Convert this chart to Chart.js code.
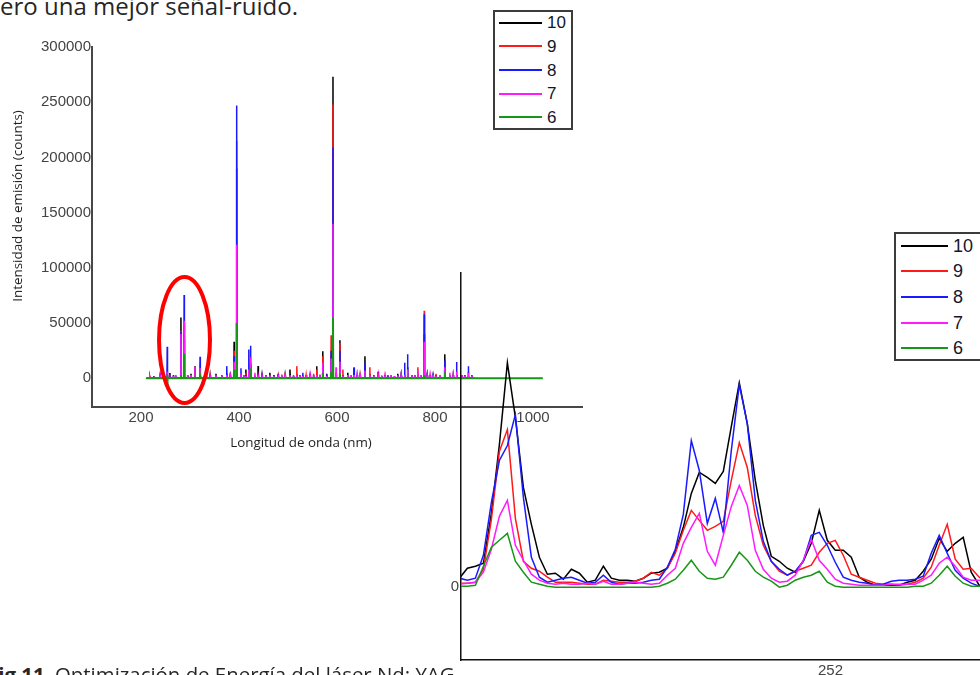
<!DOCTYPE html>
<html lang="es">
<head>
<meta charset="utf-8">
<title>Optimización de Energía del láser Nd:YAG</title>
<script src="https://cdn.jsdelivr.net/npm/chart.js@4.4.1/dist/chart.umd.min.js"></script>
<style>
  html, body { margin: 0; padding: 0; background: #fff; }
  body { position: relative; width: 980px; height: 675px; overflow: hidden; font-family: "Open Sans", sans-serif; color: #222; }
  canvas, .box, .swatch, .key, .txt { position: absolute; }
  #mainChart { left: 0; top: 0; }
  #insetChart { left: 431px; top: 262px; }
  .box { border: 2px solid #3c3c3c; background: #fff; box-sizing: border-box; }
  .swatch { height: 2px; }
  .key { font-family: "Liberation Sans", Arial, sans-serif; color: #15152a; line-height: 1; white-space: nowrap; }
  .txt { white-space: nowrap; line-height: 1; }
  #topText { left: 0; top: -6px; font-size: 24px; color: #262626; }
  #yTitle { left: -133px; top: 198px; width: 300px; text-align: center; font-size: 13.4px; line-height: 16px; transform: rotate(-90deg); color: #1e1e1e; }
  #xTitle { left: 201px; top: 434px; width: 200px; text-align: center; font-size: 13.4px; line-height: 16px; color: #1e1e1e; }
  #capNum { left: -13px; top: 664px; font-size: 20.4px; font-weight: 700; color: #262626; }
  #capText { left: 55px; top: 664px; font-size: 20.4px; color: #262626; }
</style>
</head>
<body>
<div class="txt" id="topText">ero una mejor señal-ruido.</div>

<canvas id="mainChart" width="600" height="440"></canvas>
<div class="txt" id="yTitle">Intensidad de emisión (counts)</div>
<div class="txt" id="xTitle">Longitud de onda (nm)</div>

<canvas id="insetChart" width="569" height="413"></canvas>

<div class="txt" id="capNum">Fig 11.</div>
<div class="txt" id="capText">Optimización de Energía del láser Nd: YAG</div>

<script>
const seriesNames = ['10', '9', '8', '7', '6'];
const seriesColors = ['#000000', '#ff1a1a', '#1a1aff', '#ff1aff', '#179617'];

// full spectrum: emission lines (nm) and their heights (counts) for each energy
const mainLines = [
  218, 226, 239, 246, 253.5, 259, 266, 271, 281.5, 288,
  295, 302, 310, 320.5, 333, 341, 353, 365, 375, 382,
  390, 395, 404, 410, 414, 420, 423.5, 432.5, 439, 447,
  455, 463, 471, 480, 487, 494, 504, 511, 518, 524,
  530, 537, 545, 552, 558.5, 565, 571, 579, 588, 591.8,
  598, 606, 612, 622, 628, 634.7, 641, 647, 657, 667,
  675, 684, 691, 698, 704, 710, 717, 724, 731, 738,
  744, 753, 759, 765, 771, 778, 784, 790, 796, 802,
  810, 820, 830, 837, 844, 855, 861, 868, 875
];
const main10 = [
  1200, 2000, 1500, 1000, 3000, 4800, 2500, 1500, 55000, 35000,
  2000, 4000, 11000, 3000, 1500, 2500, 4000, 2000, 4000, 3000,
  33000, 190000, 3000, 2000, 8000, 6000, 12000, 2000, 11000, 2500,
  2500, 5000, 3000, 1500, 2000, 2500, 8000, 2000, 3500, 3000,
  2000, 3000, 4000, 2500, 11000, 3000, 24500, 4000, 20000, 273000,
  5000, 34500, 3000, 5000, 2500, 9000, 3000, 2000, 20000, 4000,
  2500, 6000, 2000, 3000, 2000, 2500, 1500, 4000, 2500, 3000,
  10000, 3000, 2000, 3500, 2500, 40000, 2500, 3000, 2000, 3000,
  2500, 21800, 3000, 2500, 3000, 3000, 2000, 2000, 3000
];
const main9 = [
  2000, 1500, 2500, 2000, 2500, 3000, 2000, 1500, 43000, 48000,
  3000, 2000, 2500, 4000, 3000, 2000, 3000, 1500, 2500, 2000,
  25000, 215000, 3500, 2500, 5000, 3000, 14000, 2500, 3000, 4000,
  2000, 3000, 2500, 2000, 3500, 2000, 3000, 3000, 11000, 2500,
  3000, 2500, 2000, 4000, 8000, 3000, 20000, 3000, 39000, 248000,
  3000, 32000, 8000, 2500, 2500, 3000, 3000, 2500, 6000, 10000,
  3000, 2000, 2500, 2000, 3000, 3000, 2000, 2500, 2000, 3000,
  4000, 2500, 3000, 10000, 2000, 61200, 3000, 2000, 3000, 4000,
  2500, 12000, 3000, 3000, 2500, 2000, 2500, 6000, 2000
];
const main8 = [
  0, 1500, 2000, 1500, 28500, 2000, 3000, 2500, 42000, 75500,
  3000, 1500, 3000, 19400, 2500, 3000, 2500, 3000, 11000, 2000,
  20000, 247000, 9000, 3000, 3000, 26000, 29400, 2500, 3000, 2000,
  3000, 2500, 3000, 4000, 2500, 3000, 2500, 2000, 3000, 2500,
  5000, 3000, 2000, 2500, 3000, 2500, 12000, 3500, 25000, 209000,
  3000, 25000, 3000, 2000, 3000, 10000, 2500, 3000, 14000, 3000,
  2500, 3000, 2000, 3000, 2500, 2000, 2000, 3000, 2500, 14000,
  21800, 3000, 2500, 3000, 3000, 58000, 2500, 3000, 2000, 3000,
  2500, 16000, 2000, 3000, 14800, 2000, 3000, 11000, 2500
];
const main7 = [
  1000, 1500, 2000, 1200, 6000, 1500, 2000, 3000, 40000, 52000,
  3000, 3000, 10500, 9000, 2000, 1500, 2500, 2000, 3000, 5000,
  15000, 121000, 4000, 3000, 2000, 8000, 19000, 5000, 2000, 1500,
  2500, 2500, 2000, 1500, 3000, 3500, 2500, 2000, 3000, 2500,
  2000, 3000, 2500, 2500, 3000, 3500, 14000, 2000, 18000, 140000,
  10000, 15000, 2500, 3000, 3000, 3000, 2500, 4000, 7000, 3000,
  2000, 2500, 2500, 2000, 1500, 3000, 2000, 2500, 2500, 3000,
  8000, 3000, 2500, 7000, 3000, 33000, 2000, 2500, 3000, 2500,
  3000, 10000, 5000, 2500, 6000, 3000, 2000, 5000, 2500
];
const main6 = [
  0, 0, 0, 0, 1200, 0, 0, 0, 3000, 22500,
  0, 0, 1500, 2000, 0, 0, 0, 0, 0, 0,
  8000, 50000, 0, 0, 0, 0, 9000, 0, 0, 0,
  0, 0, 0, 0, 0, 0, 0, 0, 0, 0,
  0, 0, 0, 0, 0, 0, 5000, 0, 6000, 54500,
  0, 4000, 0, 0, 0, 0, 0, 0, 1500, 0,
  0, 0, 0, 0, 0, 0, 0, 0, 0, 0,
  1500, 0, 0, 0, 0, 3000, 0, 0, 0, 0,
  0, 1000, 0, 0, 0, 0, 0, 0, 0
];
const mainSpan = [212, 880];
const baselineSpan = [210, 1020];
const mainXTicks = [200, 400, 600, 800, 1000];
const mainYTicks = [0, 50000, 100000, 150000, 200000, 250000, 300000];

// marked region around 250-290 nm
const ringCenter = [288.8, 34700];
const ringRadius = [52, 57000];

// zoomed window near 252 nm, one reading every 0.05 nm
const insetStart = 249.68;
const insetStep = 0.05;
const inset10 = [
  900, 1900, 2100, 2400, 7400, 14300, 22500, 17000, 10000, 6300,
  3000, 1300, 1400, 800, 1800, 1400, 500, 700, 2100, 900,
  700, 700, 600, 900, 1400, 1500, 1900, 3600, 6000, 9400,
  11500, 11000, 10400, 11600, 16100, 20500, 16400, 10700, 6200, 3100,
  2600, 1900, 1500, 2600, 4400, 7700, 4700, 3700, 3700, 3000,
  1000, 500, 200, 200, 200, 200, 500, 700, 1600, 2800,
  4900, 3600, 4400, 5000, 1500, 200, 100, 100
];
const inset9 = [
  400, 400, 500, 1800, 6800, 13600, 15800, 6900, 2600, 1900,
  1600, 1000, 500, 500, 500, 400, 300, 300, 700, 600,
  500, 500, 600, 900, 1500, 1200, 1900, 3400, 5700, 7700,
  6700, 5700, 6100, 6600, 10700, 14500, 12000, 7200, 4200, 2600,
  1600, 1200, 1600, 1900, 2200, 3500, 4400, 4700, 3200, 1300,
  1000, 700, 400, 300, 300, 200, 300, 500, 900, 2000,
  4200, 6300, 2800, 1800, 1900, 1000, 400, 200
];
const inset8 = [
  900, 700, 900, 3200, 8500, 12700, 14200, 17300, 9000, 3000,
  1000, 500, 700, 900, 1000, 700, 400, 500, 1200, 500,
  300, 400, 400, 500, 700, 800, 2000, 3800, 7300, 14700,
  11700, 6400, 8900, 5500, 13700, 20300, 16400, 8700, 4600, 2600,
  1800, 1200, 1600, 2600, 5200, 5500, 4200, 2500, 1000, 700,
  500, 400, 200, 300, 600, 700, 700, 800, 1100, 3400,
  5200, 3400, 1700, 900, 400, 100, 100, 100
];
const inset7 = [
  300, 400, 500, 1500, 3800, 7100, 8700, 4200, 2700, 1300,
  700, 400, 300, 400, 300, 300, 400, 300, 600, 300,
  300, 400, 500, 400, 300, 400, 1200, 1900, 4400, 6000,
  7400, 3600, 2200, 5200, 8100, 10200, 8200, 3700, 1800, 900,
  500, 600, 1200, 2700, 4800, 2700, 1800, 800, 400, 300,
  200, 200, 200, 200, 300, 300, 300, 300, 700, 1200,
  2400, 3000, 2100, 1000, 700, 700, 500, 400
];
const inset6 = [
  100, 100, 200, 2100, 4000, 4700, 5400, 2600, 1500, 500,
  300, 100, 0, 0, 0, 0, 0, 0, 0, 0,
  0, 0, 0, 0, 0, 100, 400, 800, 1700, 2700,
  1600, 900, 800, 1000, 2200, 3500, 2700, 1600, 1000, 600,
  0, 200, 700, 1000, 1200, 1600, 500, 100, 0, 0,
  0, 0, 0, 0, 0, 0, 0, 100, 100, 400,
  1200, 2100, 1100, 400, 100, 100, 100, 100
];
const insetXTicks = [252];
const insetYTicks = [0];

Chart.defaults.font.family = '"Liberation Sans", Arial, sans-serif';

// each line becomes a thin spike rising from the zero baseline
function spikes(heights, span) {
  const pts = [{ x: span[0], y: 0 }];
  mainLines.forEach((wl, i) => {
    const h = heights[i];
    if (!h) return;
    pts.push({ x: wl - 0.6, y: 0 }, { x: wl, y: h }, { x: wl + 0.6, y: 0 });
  });
  pts.push({ x: span[1], y: 0 });
  return pts;
}

function readings(values) {
  return values.map((v, i) => ({ x: insetStart + i * insetStep, y: v }));
}

function fixedTicks(list) {
  return scale => { scale.ticks = list.map(v => ({ value: v })); };
}

const ringPlugin = {
  id: 'ring',
  afterDatasetsDraw(chart) {
    const { ctx, scales: { x, y } } = chart;
    const cx = x.getPixelForValue(ringCenter[0]);
    const cy = y.getPixelForValue(ringCenter[1]);
    const rx = Math.abs(x.getPixelForValue(ringCenter[0] + ringRadius[0]) - cx);
    const ry = Math.abs(y.getPixelForValue(ringCenter[1] + ringRadius[1]) - cy);
    ctx.save();
    ctx.strokeStyle = '#ff0000';
    ctx.lineWidth = 4;
    ctx.beginPath();
    ctx.ellipse(cx, cy, rx, ry, 0, 0, Math.PI * 2);
    ctx.stroke();
    ctx.restore();
  }
};

const mainSets = [main10, main9, main8, main7, main6];
const insetSets = [inset10, inset9, inset8, inset7, inset6];

new Chart(document.getElementById('mainChart'), {
  type: 'line',
  data: {
    datasets: mainSets.map((h, k) => ({
      label: seriesNames[k],
      data: spikes(h, k === 4 ? baselineSpan : mainSpan),
      borderColor: seriesColors[k],
      borderWidth: k === 4 ? 2 : 1.5,
      pointRadius: 0,
      tension: 0,
      fill: false,
      order: 5 - k
    }))
  },
  options: {
    responsive: false,
    animation: false,
    events: [],
    layout: { padding: { top: 47, right: 18, left: 0, bottom: 0 } },
    plugins: { legend: { display: false }, tooltip: { enabled: false } },
    scales: {
      x: {
        type: 'linear',
        min: 100,
        max: 1100,
        afterBuildTicks: fixedTicks(mainXTicks),
        afterFit: s => { s.height = 33; },
        grid: { display: false, drawTicks: false },
        border: { color: '#474747', width: 2 },
        ticks: { padding: 2, color: '#444', font: { size: 15 }, maxRotation: 0, autoSkip: false, callback: v => String(v) }
      },
      y: {
        type: 'linear',
        min: -26000,
        max: 300000,
        afterBuildTicks: fixedTicks(mainYTicks),
        afterFit: s => { s.width = 92; },
        grid: { display: false, drawTicks: false },
        border: { color: '#474747', width: 2 },
        ticks: { padding: 1, color: '#444', font: { size: 15 }, autoSkip: false, callback: v => String(v) }
      }
    }
  },
  plugins: [ringPlugin]
});

new Chart(document.getElementById('insetChart'), {
  type: 'line',
  data: {
    datasets: insetSets.map((v, k) => ({
      label: seriesNames[k],
      data: readings(v),
      borderColor: seriesColors[k],
      borderWidth: 1.5,
      pointRadius: 0,
      tension: 0,
      fill: false,
      order: 5 - k
    }))
  },
  options: {
    responsive: false,
    animation: false,
    events: [],
    layout: { padding: { top: 10, right: 0, left: 0, bottom: 0 } },
    plugins: { legend: { display: false }, tooltip: { enabled: false } },
    scales: {
      x: {
        type: 'linear',
        min: 249.69,
        max: 253.06,
        afterBuildTicks: fixedTicks(insetXTicks),
        afterFit: s => { s.height = 15; },
        grid: { display: false, drawTicks: false },
        border: { color: '#111', width: 1.5 },
        ticks: { padding: 2, color: '#444', font: { size: 15 }, maxRotation: 0, autoSkip: false, callback: v => String(v) }
      },
      y: {
        type: 'linear',
        min: -7300,
        max: 31500,
        afterBuildTicks: fixedTicks(insetYTicks),
        afterFit: s => { s.width = 30; },
        grid: { display: false, drawTicks: false },
        border: { color: '#111', width: 1.5 },
        ticks: { padding: 2, color: '#444', font: { size: 15 }, autoSkip: false, callback: v => String(v) }
      }
    }
  }
});

// boxed legends, one per chart
function legend(box, line, textLeft, firstRow, rowStep, fontSize) {
  const frame = document.createElement('div');
  frame.className = 'box';
  Object.assign(frame.style, { left: box[0] + 'px', top: box[1] + 'px', width: box[2] + 'px', height: box[3] + 'px' });
  document.body.appendChild(frame);
  seriesNames.forEach((name, k) => {
    const cy = firstRow + k * rowStep;
    const sw = document.createElement('div');
    sw.className = 'swatch';
    Object.assign(sw.style, { left: line[0] + 'px', width: (line[1] - line[0]) + 'px', top: (cy - 1) + 'px', background: seriesColors[k] });
    document.body.appendChild(sw);
    const key = document.createElement('div');
    key.className = 'key';
    key.textContent = name;
    Object.assign(key.style, { left: textLeft + 'px', top: (cy - fontSize * 0.49) + 'px', fontSize: fontSize + 'px' });
    document.body.appendChild(key);
  });
}

legend([493, 10, 80, 120], [499, 542], 547, 22.7, 23.65, 17);
legend([894, 232, 100, 129], [901, 948], 953, 245.7, 25.6, 18);
</script>
</body>
</html>
